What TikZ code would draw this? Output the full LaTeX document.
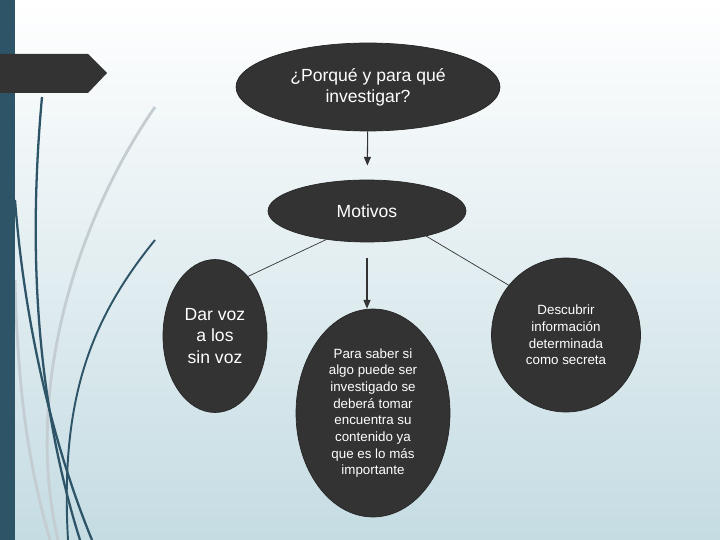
\documentclass[tikz,border=0pt]{standalone}
\usepackage{fontspec}
\setmainfont{Liberation Sans}
\usetikzlibrary{shapes.geometric,arrows.meta}

\definecolor{barteal}{RGB}{46,84,104}
\definecolor{nodegray}{RGB}{51,51,51}
\definecolor{bgblue}{RGB}{197,220,227}
\definecolor{lightcurve}{RGB}{196,205,210}

\begin{document}
\begin{tikzpicture}[x=0.02cm, y=-0.02cm,
	bubble/.style={ellipse, draw=black!85, fill=nodegray, text=white, inner sep=0pt, align=center},
	bigtext/.style={font=\fontsize{10pt}{12pt}\selectfont},
	smalltext/.style={font=\fontsize{7.6pt}{9.5pt}\selectfont},
	link/.style={draw=black!80, thin},
	down/.style={draw=black!80, semithick, -{Triangle[length=5pt,width=4pt]}}] % pixel grid, y downwards
	
	% Background and frame
	\useasboundingbox (0,0) rectangle (720,540);
	\shade[top color=white, bottom color=bgblue] (0,0) rectangle (720,540);
	\begin{scope}
		\clip (0,0) rectangle (720,540);
		% decorative curves
		\draw[lightcurve, line width=1.6pt] (155,107) .. controls (70,230) and (25,400) .. (58,540);
		\draw[lightcurve, line width=1.6pt] (15,280) .. controls (18,400) and (30,470) .. (50,540);
		\draw[barteal, line width=1.3pt] (42,97) .. controls (28,250) and (36,400) .. (80,540);
		\draw[barteal, line width=1.3pt] (15,200) .. controls (25,330) and (55,450) .. (92,540);
		\draw[barteal, line width=1.1pt] (155,240) .. controls (90,320) and (60,400) .. (68,540);
	\end{scope}
	\fill[barteal] (0,0) rectangle (15,540);
	\fill[nodegray] (0,54) -- (88,54) -- (107,73) -- (88,93) -- (0,93) -- cycle;
	
	% Question and motives
	\node[bubble, bigtext, minimum width=5.28cm, minimum height=1.76cm] (pregunta) at (368,87) {¿Porqué y para qué\\investigar?};
	\node[bubble, bigtext, minimum width=3.96cm, minimum height=1.24cm] (motivos) at (367,211) {Motivos};
	
	% The three motives
	\node[bubble, bigtext, minimum width=2.08cm, minimum height=3.06cm] (darvoz) at (215,336) {Dar voz\\a los\\sin voz};
	\node[bubble, smalltext, minimum width=3.08cm, minimum height=4.16cm] (saber) at (373,413) {Para saber si\\algo puede ser\\investigado se\\deberá tomar\\encuentra su\\contenido ya\\que es lo más\\importante};
	\node[bubble, smalltext, minimum width=2.98cm, minimum height=3.08cm] (secreta) at (566,335) {Descubrir\\información\\determinada\\como secreta};
	
	% Connectors
	\draw[down, shorten >=8pt] (pregunta) -- (motivos);
	\draw[down, shorten <=9pt] (motivos.south) -- (motivos.south |- saber.north);
	\draw[link] (motivos.215) -- (darvoz.61);
	\draw[link] (motivos.337) -- (secreta.139);
\end{tikzpicture}
\end{document}
